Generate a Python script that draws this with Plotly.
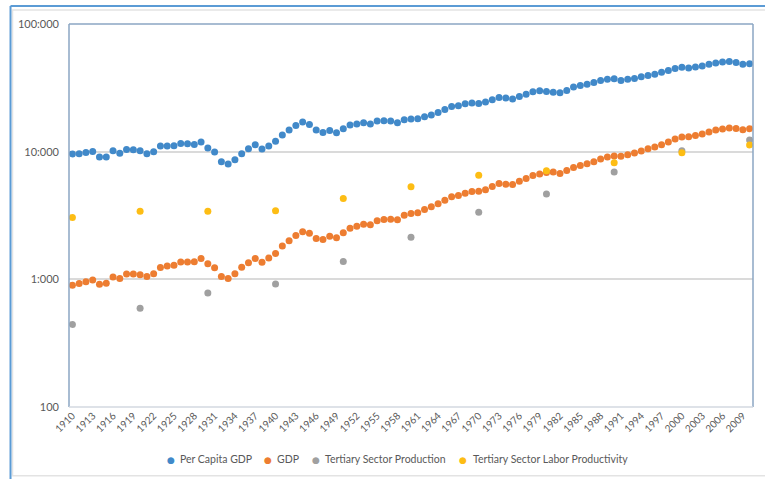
import plotly.graph_objects as go

years = list(range(1910, 2011))
decades = list(range(1910, 2011, 10))

per_capita_gdp = [
    9600, 9650, 9870, 10050, 9090, 9090, 10180, 9700, 10420, 10370,
    10180, 9650, 10000, 11080, 11080, 11140, 11610, 11550, 11400, 11910,
    10690, 9950, 8350, 8010, 8640, 9650, 10550, 11340, 10500, 11080,
    12040, 13510, 14770, 16050, 17060, 16340, 14770, 14150, 14670, 14070,
    15120, 16170, 16460, 16850, 16460, 17370, 17470, 17370, 16850, 17780,
    18010, 18110, 18770, 19350, 20280, 21410, 22590, 22880, 23710, 24010,
    23850, 24450, 25490, 26570, 26280, 25810, 27040, 28230, 29430, 29970,
    29590, 29190, 28900, 30130, 32030, 32960, 33810, 34780, 36060, 36980,
    37180, 36060, 36980, 37380, 38540, 39460, 40460, 41950, 43180, 44760,
    45890, 45320, 46140, 46980, 48440, 49590, 50490, 50800, 49940, 48440,
    48730,
]

gdp = [
    898, 926, 959, 987, 914, 931, 1042, 1013, 1100, 1100,
    1088, 1052, 1108, 1236, 1270, 1291, 1365, 1365, 1375, 1459,
    1322, 1230, 1054, 1015, 1108, 1241, 1351, 1459, 1358, 1467,
    1596, 1821, 2006, 2207, 2358, 2299, 2091, 2054, 2179, 2118,
    2316, 2517, 2609, 2704, 2675, 2875, 2943, 2959, 2927, 3180,
    3279, 3320, 3523, 3698, 3904, 4165, 4427, 4532, 4724, 4870,
    4896, 5022, 5329, 5623, 5553, 5523, 5861, 6153, 6494, 6696,
    6855, 6942, 6731, 7107, 7499, 7775, 8058, 8354, 8770, 9092,
    9256, 9190, 9476, 9768, 10128, 10554, 10882, 11342, 11906, 12570,
    13030, 13098, 13410, 13750, 14250, 14770, 15040, 15320, 15210, 14860,
    15120,
]

tertiary_production = [443, 594, 782, 919, 1382, 2140, 3360, 4670, 6940, 10180, 12340]
tertiary_productivity = [3050, 3420, 3420, 3440, 4300, 5300, 6530, 7090, 8200, 9820, 11280]

series_names = ["Per Capita GDP", "GDP", "Tertiary Sector Production", "Tertiary Sector Labor Productivity"]
colors = ["#4189C9", "#ED7D31", "#A0A0A0", "#FDBD14"]

y_ticks = [100, 1000, 10000, 100000]
y_labels = ["100", "1:000", "10:000", "100:000"]
x_ticks = list(range(1910, 2010, 3))

FONT = "Lato"
TEXT = "#595959"

fig = go.Figure()
xs = [years, years, decades, decades]
ys = [per_capita_gdp, gdp, tertiary_production, tertiary_productivity]
for name, c, x, y in zip(series_names, colors, xs, ys):
    fig.add_trace(go.Scatter(x=x, y=y, mode="markers", name=name,
                             marker=dict(color=c, size=7, line=dict(width=0))))

fig.update_layout(
    width=765, height=479,
    margin=dict(l=69, r=12, t=24, b=72),
    paper_bgcolor="white", plot_bgcolor="white",
    showlegend=False,
    font=dict(family=FONT, color=TEXT, size=10),
)
fig.update_xaxes(range=[1909.5, 2010.5], tickvals=x_ticks, tickangle=-45,
                 showgrid=False, zeroline=False, showline=False, ticks="",
                 tickfont=dict(size=10, color=TEXT), automargin=False)
fig.update_yaxes(type="log", range=[2, 5], tickvals=y_ticks, ticktext=y_labels,
                 showgrid=True, gridcolor="#DADADA", gridwidth=1.5, zeroline=False,
                 showline=False, ticks="", ticklabelstandoff=9,
                 tickfont=dict(size=11, color=TEXT), automargin=False)

# plot frame: blue-gray left/top/right, light gray bottom
frame = "#8BA6C3"
fig.add_shape(type="line", xref="paper", yref="paper", x0=0, x1=0, y0=0, y1=1, line=dict(color=frame, width=1.5))
fig.add_shape(type="line", xref="paper", yref="paper", x0=0, x1=1, y0=1, y1=1, line=dict(color=frame, width=1.5))
fig.add_shape(type="line", xref="paper", yref="paper", x0=1, x1=1, y0=0, y1=1, line=dict(color=frame, width=1.5))
fig.add_shape(type="line", xref="paper", yref="paper", x0=0, x1=1, y0=0, y1=0, line=dict(color="#D3D9E0", width=1.5))

# chart area border and selection outline
fig.add_shape(type="rect", xref="paper", yref="paper", x0=-0.0826, x1=1.02, y0=-0.1795, y1=1.0365,
              line=dict(color="#E3E3E3", width=1.5), layer="below")
fig.add_shape(type="line", xref="paper", yref="paper", x0=-0.0855, x1=1.02, y0=1.047, y1=1.047,
              line=dict(color="#5B9BD5", width=2))
fig.add_shape(type="line", xref="paper", yref="paper", x0=-0.0855, x1=-0.0855, y0=-0.2, y1=1.047,
              line=dict(color="#5B9BD5", width=2))

# legend drawn as text under the plot
legend_dot_x = [170.7, 268.3, 315.7, 463.3]
legend_text_x = [177.5, 275, 322.5, 470.5]
for name, c, dx, tx in zip(series_names, colors, legend_dot_x, legend_text_x):
    fig.add_annotation(x=(dx - 69) / 684, y=(407 - 459.5) / 383, xref="paper", yref="paper",
                       text="●", showarrow=False, xanchor="center", yanchor="middle",
                       font=dict(color=c, size=9, family="DejaVu Sans"))
    fig.add_annotation(x=(tx - 69) / 684, y=(407 - 459) / 383, xref="paper", yref="paper",
                       text=name, showarrow=False, xanchor="left", yanchor="middle",
                       font=dict(color=TEXT, size=10.5, family=FONT))

# drop the browser's default body margin so the figure sits at the page corner
fig.write_html("out.html", config={"displayModeBar": False},
               post_script="document.body.style.margin='0';")
